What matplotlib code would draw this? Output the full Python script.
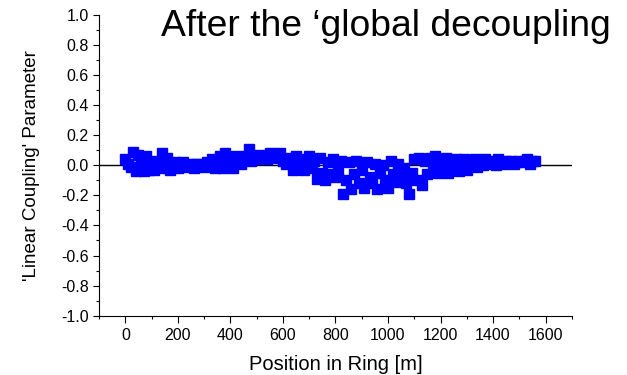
import numpy as np
import matplotlib.pyplot as plt
from matplotlib.ticker import MultipleLocator

plt.rcParams['font.family'] = ['Liberation Sans', 'DejaVu Sans']

# position along the ring [m], one reading every 10 m
pos = list(range(0, 1570, 10))

coupling = [
    0.04, 0.01, -0.01, 0.09, -0.04, 0.07, 0.02, -0.04, 0.06, -0.03,
    0.03, -0.03, 0.02, 0.00, 0.08, -0.02, 0.05, -0.03, 0.01, 0.02,
    -0.02, 0.01, 0.02, -0.01, 0.00, 0.01, -0.02, 0.01, 0.00, 0.01,
    -0.01, 0.02, 0.00, 0.04, -0.02, 0.03, 0.06, -0.02, 0.08, 0.01,
    0.05, -0.02, 0.06, 0.02, 0.01, 0.05, 0.06, 0.11, 0.03, 0.05,
    0.04, 0.07, 0.05, 0.06, 0.04, 0.08, 0.06, 0.07, 0.05, 0.08,
    0.03, 0.01, 0.05, 0.02, -0.03, 0.06, 0.00, 0.04, -0.03, 0.02,
    0.06, -0.02, 0.03, -0.09, 0.05, -0.05, -0.10, 0.02, -0.06, 0.04,
    -0.08, -0.03, 0.03, -0.19, -0.10, 0.02, -0.16, -0.06, 0.03, -0.12,
    -0.03, -0.15, 0.02, -0.08, -0.12, 0.01, -0.16, -0.05, 0.00, -0.10,
    -0.15, 0.03, -0.06, -0.11, 0.01, -0.08, -0.02, -0.12, -0.19, -0.05,
    0.04, -0.10, 0.05, -0.13, 0.03, -0.06, 0.05, -0.02, 0.06, -0.05,
    0.03, -0.02, 0.05, -0.05, 0.03, 0.00, 0.04, -0.04, 0.02, 0.04,
    -0.03, 0.03, 0.01, 0.04, -0.01, 0.03, 0.00, 0.04, 0.02, 0.01,
    0.03, 0.00, 0.04, 0.02, 0.01, 0.03, 0.02, 0.03, 0.01, 0.02,
    0.03, 0.02, 0.03, 0.04, 0.01, 0.03, 0.03,
]

title = "After the \u2018global decoupling"

fig = plt.figure(figsize=(6.27, 3.75), dpi=100)
ax = fig.add_axes([0.158, 0.158, 0.754, 0.803])

ax.axhline(0, color='black', lw=1.0, zorder=1)
ax.plot(pos, coupling, linestyle='none', marker='s', markersize=7.5,
        color='#0000ff', markeredgecolor='#0000ff', zorder=2)

ax.set_xlim(-100, 1700)
ax.set_ylim(-1.0, 1.0)
ax.xaxis.set_major_locator(MultipleLocator(200))
ax.xaxis.set_minor_locator(MultipleLocator(100))
ax.yaxis.set_major_locator(MultipleLocator(0.2))
ax.yaxis.set_minor_locator(MultipleLocator(0.1))
ax.set_xticks(range(0, 1601, 200))
ax.set_yticklabels([f"{v:.1f}" for v in ax.get_yticks()])

for side in ('top', 'right'):
    ax.spines[side].set_visible(False)
for side in ('left', 'bottom'):
    ax.spines[side].set_linewidth(0.8)

ax.tick_params(which='major', direction='out', length=4, width=0.8, labelsize=11.5)
ax.tick_params(which='major', axis='x', length=5)
ax.tick_params(which='minor', direction='out', length=2.5, width=0.8)

ax.set_xlabel("Position in Ring [m]", fontsize=14.5)
ax.set_ylabel("'Linear Coupling' Parameter", fontsize=13.5)
ax.xaxis.set_label_coords(0.5, -0.13)
ax.yaxis.set_label_coords(-0.125, 0.5)

fig.text(0.257, 0.905, title, fontsize=26.8, ha='left', va='baseline')

fig.savefig("out.png", dpi=100)
